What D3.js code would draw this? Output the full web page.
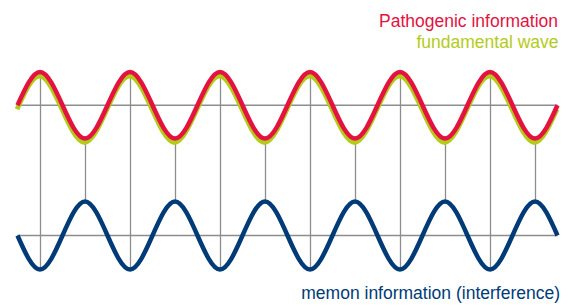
<!DOCTYPE html>
<html>
<head>
<meta charset="utf-8">
<script src="https://cdn.jsdelivr.net/npm/d3@7"></script>
<style>
  html, body { margin: 0; padding: 0; background: #ffffff; }
  svg { display: block; font-family: "Liberation Sans", Arial, sans-serif; }
</style>
</head>
<body>
<div id="chart"></div>
<script>
// x positions in quarter periods (6 full periods)
const quarterSteps = [0, 1, 2, 3, 4, 5, 6, 7, 8, 9, 10, 11, 12, 13, 14, 15, 16, 17, 18, 19, 20, 21, 22, 23, 24];
// wave values at each quarter step
const pathogenicValues = [0, 1, 0, -1, 0, 1, 0, -1, 0, 1, 0, -1, 0, 1, 0, -1, 0, 1, 0, -1, 0, 1, 0, -1, 0];
const fundamentalValues = [0, 1, 0, -1, 0, 1, 0, -1, 0, 1, 0, -1, 0, 1, 0, -1, 0, 1, 0, -1, 0, 1, 0, -1, 0];
const memonValues = [0, -1, 0, 1, 0, -1, 0, 1, 0, -1, 0, 1, 0, -1, 0, 1, 0, -1, 0, 1, 0, -1, 0, 1, 0];
const legendLabels = ['Pathogenic information', 'fundamental wave', 'memon information (interference)'];

const width = 568;
const height = 307;
const colors = { red: '#e4123f', green: '#b3cb1b', blue: '#003b78', grid: '#8d8d8d' };

const svg = d3.select('#chart').append('svg')
    .attr('width', width)
    .attr('height', height);

const x = d3.scaleLinear().domain([0, 24]).range([17.5, 557.5]);
const yTop = d3.scaleLinear().domain([-1, 1]).range([138.5, 72]);
const yBottom = d3.scaleLinear().domain([-1, 1]).range([269.5, 201.5]);

const toPoints = (vals) => quarterSteps.map((q, i) => ({ q, v: vals[i] }));

// baselines
[yTop(0), yBottom(0)].forEach((yy) => {
    svg.append('line')
        .attr('x1', x(0)).attr('x2', x(24))
        .attr('y1', yy).attr('y2', yy)
        .attr('stroke', colors.grid)
        .attr('stroke-width', 1.5);
});

// vertical connectors at each extremum
const extrema = quarterSteps.filter((q) => q % 2 === 1);
svg.append('g').selectAll('line')
    .data(extrema)
    .join('line')
    .attr('x1', (q) => Math.round(x(q)) + 0.5)
    .attr('x2', (q) => Math.round(x(q)) + 0.5)
    .attr('y1', (q) => yTop(fundamentalValues[q]) + 3)
    .attr('y2', (q) => yBottom(memonValues[q]))
    .attr('stroke', colors.grid)
    .attr('stroke-width', 1.3);

const lineTop = d3.line()
    .x((d) => x(d.q))
    .y((d) => yTop(d.v))
    .curve(d3.curveNatural);
const lineBottom = d3.line()
    .x((d) => x(d.q))
    .y((d) => yBottom(d.v))
    .curve(d3.curveNatural);

svg.append('path')
    .attr('d', lineTop(toPoints(fundamentalValues)))
    .attr('transform', 'translate(-0.5,4)')
    .attr('fill', 'none')
    .attr('stroke', colors.green)
    .attr('stroke-width', 4.8);

svg.append('path')
    .attr('d', lineTop(toPoints(pathogenicValues)))
    .attr('fill', 'none')
    .attr('stroke', colors.red)
    .attr('stroke-width', 4.5);

svg.append('path')
    .attr('d', lineBottom(toPoints(memonValues)))
    .attr('fill', 'none')
    .attr('stroke', colors.blue)
    .attr('stroke-width', 4.5);

// labels
svg.append('text')
    .attr('x', 558).attr('y', 26.5)
    .attr('text-anchor', 'end')
    .attr('font-size', 17.5)
    .attr('fill', colors.red)
    .text(legendLabels[0]);
svg.append('text')
    .attr('x', 558.5).attr('y', 47.5)
    .attr('text-anchor', 'end')
    .attr('font-size', 17.5)
    .attr('fill', colors.green)
    .text(legendLabels[1]);
svg.append('text')
    .attr('x', 560).attr('y', 299)
    .attr('text-anchor', 'end')
    .attr('font-size', 17.5)
    .attr('fill', colors.blue)
    .text(legendLabels[2]);
</script>
</body>
</html>
